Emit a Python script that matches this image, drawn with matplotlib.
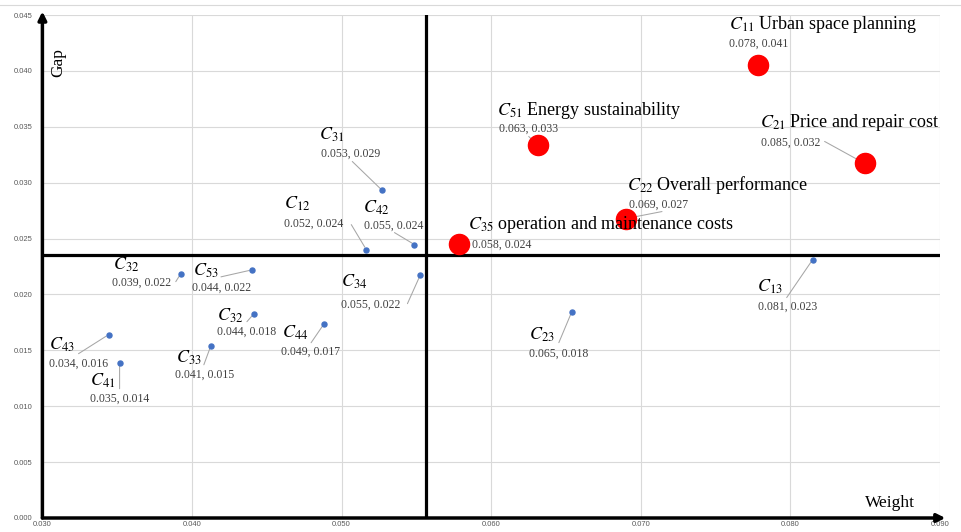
import matplotlib
matplotlib.use("Agg")
import matplotlib.pyplot as plt
import numpy as np
from matplotlib.lines import Line2D

plt.rcParams['font.family'] = ['Liberation Serif', 'DejaVu Serif']
plt.rcParams['mathtext.fontset'] = 'stix'

# criteria, weight and gap
codes = ['32', '53', '32', '43', '41', '33', '44', '31', '12', '42', '34',
         '23', '13', '11', '51', '21', '22', '35']
descriptions = ['', '', '', '', '', '', '', '', '', '', '',
                '', '', 'Urban space planning', 'Energy sustainability',
                'Price and repair cost', 'Overall performance',
                'operation and maintenance costs']
weights = [0.03925, 0.04401, 0.04414, 0.03442, 0.03516, 0.04126, 0.04883,
           0.05272, 0.05165, 0.05487, 0.05527, 0.06539, 0.08149, 0.07785,
           0.06311, 0.08496, 0.06901, 0.05782]
gaps = [0.02186, 0.0222, 0.01828, 0.0164, 0.01389, 0.01541, 0.01738,
        0.0293, 0.02401, 0.02446, 0.02177, 0.01846, 0.02312, 0.04051,
        0.03333, 0.03172, 0.02679, 0.02448]
key = [False] * 13 + [True] * 5

# label layout: offsets in pixels (name, value, leader end)
name_off = [(-68, 4), (-59, -6), (-37, -7), (-60, -15), (-30, -23), (-35, -17),
            (-42, -14), (-63, 51), (-82, 41), (-51, 32), (-79, -12), (-43, -28),
            (-56, -32), (-29, 36), (-41, 30), (-105, 36), (1, 29), (9, 15)]
value_off = [(-69, -12), (-60, -21), (-37, -21), (-60, -32), (-30, -39), (-36, -32),
             (-43, -31), (-61, 34), (-82, 23), (-50, 16), (-79, -33), (-43, -45),
             (-55, -50), (-29, 18), (-39, 14), (-104, 18), (3, 11), (13, -3)]
leader_off = [(-5, -8), (-31, -7), (-7, -8), (-30, -19), (0, -26), (-7, -19),
              (-13, -19), (-30, 29), (-15, 25), (-20, 12), (-13, -29), (-13, -31),
              (-26, -38), None, (-9, 9), (-40, 22), (36, 7), None]

fig = plt.figure(figsize=(9.62, 5.32), dpi=100)
ax = fig.add_axes([42.4 / 962, 14 / 532, 897.6 / 962, 503 / 532])

ax.set_xlim(0.03, 0.09)
ax.set_ylim(0, 0.045)
ax.set_xticks(np.arange(0.03, 0.0901, 0.01))
ax.set_yticks(np.arange(0, 0.0451, 0.005))
ax.xaxis.set_major_formatter(matplotlib.ticker.FormatStrFormatter('%.3f'))
ax.yaxis.set_major_formatter(matplotlib.ticker.FormatStrFormatter('%.3f'))
ax.tick_params(length=0, labelsize=5.5, labelcolor='#595959', pad=7)
ax.tick_params(axis='x', pad=2.5)
for lab in ax.get_xticklabels() + ax.get_yticklabels():
    lab.set_fontfamily('Liberation Sans')
ax.grid(True, color='#d9d9d9', lw=0.8)
ax.set_axisbelow(True)
for s in ax.spines.values():
    s.set_visible(False)

# axis arrows
arrow = dict(arrowstyle='-|>', lw=2.5, color='black', mutation_scale=12,
             shrinkA=0, shrinkB=0)
ax.annotate('', xy=(0, 1.007), xytext=(0, 0), xycoords='axes fraction',
            arrowprops=arrow, annotation_clip=False)
ax.annotate('', xy=(1.006, 0), xytext=(0, 0), xycoords='axes fraction',
            arrowprops=arrow, annotation_clip=False)

# quadrant lines at the means
ax.axvline(np.mean(weights), color='black', lw=2.3, zorder=1)
ax.axhline(np.mean(gaps), color='black', lw=2.3, zorder=1)

w = np.array(weights)
g = np.array(gaps)
k = np.array(key)
ax.scatter(w[~k], g[~k], s=13, color='#4472C4', zorder=3)
ax.scatter(w[k], g[k], s=210, color='#ff0000', zorder=3)

for i in range(len(codes)):
    pt = (weights[i], gaps[i])
    name = '$C_{%s}$' % codes[i]
    if descriptions[i]:
        name += ' ' + descriptions[i]
    ax.annotate(name, xy=pt, xytext=name_off[i], textcoords='offset pixels',
                ha='left', va='baseline', fontsize=13, color='black', zorder=4)
    ax.annotate('%.3f, %.3f' % pt, xy=pt, xytext=value_off[i],
                textcoords='offset pixels', ha='left', va='baseline',
                fontsize=8.5, color='#404040', zorder=4)
    if leader_off[i] is not None:
        ax.annotate('', xy=pt, xytext=leader_off[i], textcoords='offset pixels',
                    arrowprops=dict(arrowstyle='-', color='#a6a6a6', lw=0.75,
                                    shrinkA=0, shrinkB=2), zorder=2)

ax.text(0.018, 0.905, 'Gap', transform=ax.transAxes, rotation=90,
        ha='center', va='center', fontsize=12.5)
ax.text(0.944, 0.022, 'Weight', transform=ax.transAxes, ha='center',
        va='baseline', fontsize=12.5)

# chart border at the top
fig.add_artist(Line2D([0, 1], [1 - 5 / 532, 1 - 5 / 532], color='#d9d9d9',
                      lw=0.8, transform=fig.transFigure))

fig.savefig('out.png', dpi=100)
